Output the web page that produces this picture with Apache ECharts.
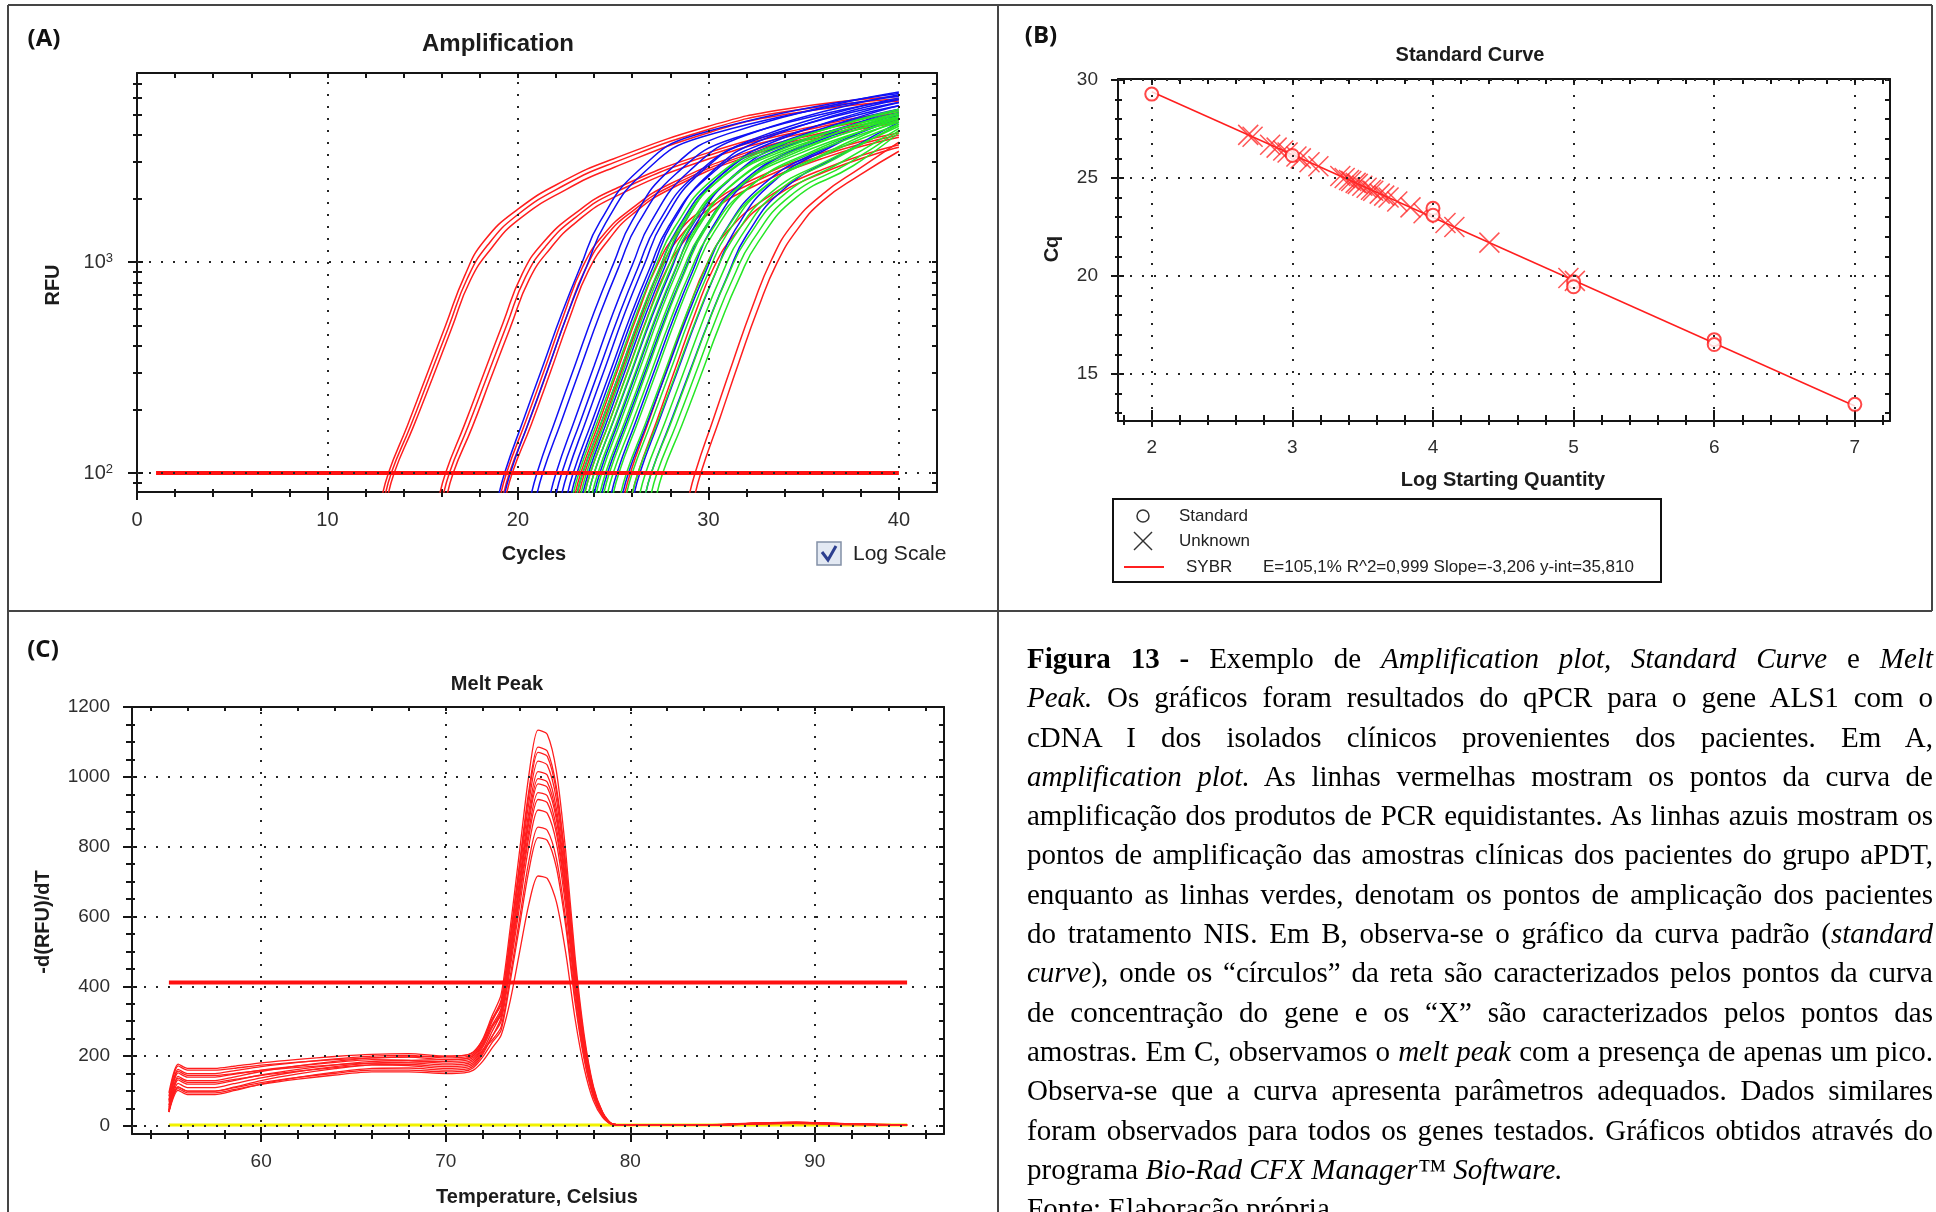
<!DOCTYPE html>
<html>
<head>
<meta charset="utf-8">
<script src="https://cdn.jsdelivr.net/npm/echarts@6/dist/echarts.min.js"></script>
<style>
  html, body { margin: 0; padding: 0; background: #fff; overflow: hidden; width: 1936px; height: 1212px; }
  #chart { position: absolute; left: 0; top: 0; width: 1936px; height: 1212px; }
  #caption {
    position: absolute; left: 1027px; top: 639px; width: 906px;
    font-family: "Liberation Serif", "Times New Roman", serif;
    font-size: 29px; line-height: 39.3px; color: #000;
  }
  #caption .j { text-align: justify; text-align-last: justify; }
</style>
</head>
<body>
<div id="chart"></div>
<div id="caption">
  <div class="j"><b>Figura 13 -</b> Exemplo de <i>Amplification plot, Standard Curve</i> e <i>Melt</i></div>
  <div class="j"><i>Peak.</i> Os gráficos foram resultados do qPCR para o gene ALS1 com o</div>
  <div class="j">cDNA I dos isolados clínicos provenientes dos pacientes. Em A,</div>
  <div class="j"><i>amplification plot.</i> As linhas vermelhas mostram os pontos da curva de</div>
  <div class="j">amplificação dos produtos de PCR equidistantes. As linhas azuis mostram os</div>
  <div class="j">pontos de amplificação das amostras clínicas dos pacientes do grupo aPDT,</div>
  <div class="j">enquanto as linhas verdes, denotam os pontos de amplicação dos pacientes</div>
  <div class="j">do tratamento NIS. Em B, observa-se o gráfico da curva padrão (<i>standard</i></div>
  <div class="j"><i>curve</i>), onde os “círculos” da reta são caracterizados pelos pontos da curva</div>
  <div class="j">de concentração do gene e os “X” são caracterizados pelos pontos das</div>
  <div class="j">amostras. Em C, observamos o <i>melt peak</i> com a presença de apenas um pico.</div>
  <div class="j">Observa-se que a curva apresenta parâmetros adequados. Dados similares</div>
  <div class="j">foram observados para todos os genes testados. Gráficos obtidos através do</div>
  <div>programa <i>Bio-Rad CFX Manager™ Software.</i></div>
  <div>Fonte: Elaboração própria</div>
</div>
<script>
// ---------- (A) Amplification: [cycle, RFU] ----------
const ampRed = [
  [[12.8,72],[13.2,100],[14.2,168],[15.2,290],[16.2,500],[17.2,860],[18.2,1250],[20,1780],[22.5,2450],[25,3080],[30,4400],[34,5300],[40,6100]],
  [[12.95,72],[13.35,100],[14.35,166],[15.35,285],[16.35,490],[17.35,840],[18.4,1200],[20,1680],[22.5,2330],[25,2950],[30,4250],[34,5150],[40,5950]],
  [[13.1,72],[13.5,100],[14.5,165],[15.5,280],[16.5,480],[17.5,820],[18.6,1160],[20,1580],[22.5,2200],[25,2800],[30,4100],[34,5000],[40,5800]],
  [[15.8,72],[16.2,100],[17.2,170],[18.2,295],[19.2,510],[20.2,870],[21.3,1230],[23,1700],[25,2200],[30,3300],[35,4300],[40,5200]],
  [[16.0,72],[16.4,100],[17.4,168],[18.4,290],[19.4,500],[20.4,850],[21.5,1200],[23,1620],[25,2120],[30,3200],[35,4200],[40,5100]],
  [[16.2,72],[16.6,100],[17.6,165],[18.6,285],[19.6,490],[20.6,830],[21.7,1160],[23,1530],[25,2020],[30,3080],[35,4080],[40,4950]],
  [[19.0,72],[19.4,100],[20.4,175],[21.4,310],[22.4,560],[23.4,950],[24.5,1350],[26,1800],[28,2350],[32,3300],[36,4100],[40,4800]],
  [[19.15,72],[19.55,100],[20.55,172],[21.55,305],[22.55,550],[23.55,930],[24.6,1320],[26,1740],[28,2280],[32,3220],[36,4000],[40,4700]],
  [[19.3,72],[19.7,100],[20.7,170],[21.7,300],[22.7,540],[23.7,910],[24.8,1290],[26,1680],[28,2220],[32,3150],[36,3920],[40,4600]],
  [[22.9,72],[23.3,100],[24.3,178],[25.3,320],[26.3,570],[27.3,960],[28.4,1380],[30,1850],[32,2380],[36,3300],[40,4100]],
  [[23.1,72],[23.5,100],[24.5,176],[25.5,315],[26.5,560],[27.5,940],[28.6,1350],[30,1780],[32,2300],[36,3200],[40,4000]],
  [[23.4,72],[23.8,100],[24.8,175],[25.8,310],[26.8,550],[27.8,920],[28.9,1320],[30,1690],[32,2200],[36,3100],[40,3900]],
  [[25.5,72],[25.9,100],[26.9,180],[27.9,325],[28.9,580],[29.9,970],[31,1400],[33,2000],[36,2750],[40,3600]],
  [[25.9,72],[26.3,100],[27.3,178],[28.3,320],[29.3,570],[30.3,950],[31.4,1360],[33,1900],[36,2650],[40,3500]],
  [[28.9,72],[29.3,100],[30.3,185],[31.3,340],[32.3,610],[33.3,1020],[34.4,1500],[36,2100],[38,2800],[40,3700]],
  [[29.2,72],[29.6,100],[30.6,182],[31.6,335],[32.6,600],[33.6,990],[34.7,1440],[36,1950],[38,2600],[40,3350]]
];
const ampBlue = [
  [[18.9,72],[19.3,100],[20.3,180],[21.3,320],[22.3,570],[23.3,960],[24.3,1550],[26.3,2700],[29.3,4000],[40,6300]],
  [[19.2,72],[19.6,100],[20.6,178],[21.6,316],[22.6,565],[23.6,950],[24.6,1530],[26.6,2650],[29.6,3900],[40,6100]],
  [[20.6,72],[21,100],[22,182],[23,325],[24,580],[25,975],[26,1570],[28,2750],[31,4050],[40,6400]],
  [[20.9,72],[21.3,100],[22.3,178],[23.3,318],[24.3,565],[25.3,950],[26.3,1520],[28.3,2620],[31.3,3850],[40,5900]],
  [[21.6,72],[22,100],[23,181],[24,322],[25,575],[26,965],[27,1560],[29,2700],[32,4000],[40,6200]],
  [[21.9,72],[22.3,100],[23.3,178],[24.3,316],[25.3,560],[26.3,940],[27.3,1500],[29.3,2580],[32.3,3750],[40,5700]],
  [[22.2,72],[22.6,100],[23.6,180],[24.6,320],[25.6,570],[26.6,955],[27.6,1540],[29.6,2660],[32.6,3900],[40,6000]],
  [[22.5,72],[22.9,100],[23.9,177],[24.9,312],[25.9,552],[26.9,925],[27.9,1470],[29.9,2500],[32.9,3650],[40,5500]],
  [[22.7,72],[23.1,100],[24.1,180],[25.1,320],[26.1,568],[27.1,950],[28.1,1530],[30.1,2640],[33.1,3880],[40,5900]],
  [[23.0,72],[23.4,100],[24.4,176],[25.4,310],[26.4,548],[27.4,915],[28.4,1450],[30.4,2460],[33.4,3580],[40,5300]],
  [[23.3,72],[23.7,100],[24.7,179],[25.7,318],[26.7,563],[27.7,945],[28.7,1510],[30.7,2600],[33.7,3800],[40,5700]],
  [[23.6,72],[24,100],[25,175],[26,307],[27,540],[28,900],[29,1420],[31,2400],[34,3500],[40,5100]],
  [[23.9,72],[24.3,100],[25.3,178],[26.3,315],[27.3,558],[28.3,935],[29.3,1490],[31.3,2560],[34.3,3730],[40,5500]],
  [[24.3,72],[24.7,100],[25.7,175],[26.7,305],[27.7,535],[28.7,890],[29.7,1400],[31.7,2360],[34.7,3430],[40,5000]],
  [[24.8,72],[25.2,100],[26.2,177],[27.2,312],[28.2,550],[29.2,920],[30.2,1460],[32.2,2500],[35.2,3650],[40,5300]],
  [[25.4,72],[25.8,100],[26.8,174],[27.8,302],[28.8,528],[29.8,875],[30.8,1370],[32.8,2300],[35.8,3350],[40,4800]],
  [[26.0,72],[26.4,100],[27.4,176],[28.4,308],[29.4,540],[30.4,900],[31.4,1420],[33.4,2400],[36.4,3500],[40,5000]],
  [[26.6,72],[27,100],[28,173],[29,300],[30,520],[31,860],[32,1340],[34,2230],[37,3250],[40,4600]]
];
const ampGreen = [
  [[22.8,72],[23.2,100],[24.2,178],[25.2,315],[26.2,560],[27.2,940],[28.2,1450],[30.2,2450],[33.2,3500],[40,5200]],
  [[23.0,72],[23.4,100],[24.4,176],[25.4,310],[26.4,550],[27.4,920],[28.4,1420],[30.4,2380],[33.4,3400],[40,5000]],
  [[23.2,72],[23.6,100],[24.6,179],[25.6,318],[26.6,565],[27.6,950],[28.6,1470],[30.6,2480],[33.6,3550],[40,5300]],
  [[23.4,72],[23.8,100],[24.8,175],[25.8,308],[26.8,545],[27.8,910],[28.8,1400],[30.8,2340],[33.8,3330],[40,4900]],
  [[23.6,72],[24,100],[25,177],[26,313],[27,556],[28,930],[29,1440],[31,2420],[34,3460],[40,5100]],
  [[23.8,72],[24.2,100],[25.2,175],[26.2,306],[27.2,540],[28.2,900],[29.2,1380],[31.2,2300],[34.2,3280],[40,4800]],
  [[24.0,72],[24.4,100],[25.4,177],[26.4,312],[27.4,553],[28.4,925],[29.4,1430],[31.4,2400],[34.4,3420],[40,5000]],
  [[24.2,72],[24.6,100],[25.6,174],[26.6,304],[27.6,535],[28.6,890],[29.6,1360],[31.6,2260],[34.6,3220],[40,4700]],
  [[24.4,72],[24.8,100],[25.8,176],[26.8,310],[27.8,548],[28.8,915],[29.8,1410],[31.8,2360],[34.8,3370],[40,4900]],
  [[24.6,72],[25,100],[26,173],[27,302],[28,530],[29,880],[30,1340],[32,2220],[35,3160],[40,4600]],
  [[24.9,72],[25.3,100],[26.3,175],[27.3,307],[28.3,542],[29.3,905],[30.3,1390],[32.3,2320],[35.3,3300],[40,4800]],
  [[25.3,72],[25.7,100],[26.7,172],[27.7,300],[28.7,525],[29.7,870],[30.7,1320],[32.7,2180],[35.7,3100],[40,4500]],
  [[25.6,72],[26,100],[27,174],[28,305],[29,538],[30,895],[31,1370],[33,2280],[36,3240],[40,4700]],
  [[25.9,72],[26.3,100],[27.3,171],[28.3,298],[29.3,520],[30.3,860],[31.3,1300],[33.3,2140],[36.3,3040],[40,4400]],
  [[26.3,72],[26.7,100],[27.7,172],[28.7,300],[29.7,526],[30.7,872],[31.7,1320],[33.7,2180],[36.7,3100],[40,4500]],
  [[26.6,72],[27,100],[28,170],[29,295],[30,515],[31,850],[32,1280],[34,2100],[37,2980],[40,4300]],
  [[26.9,72],[27.3,100],[28.3,169],[29.3,292],[30.3,510],[31.3,840],[32.3,1260],[34.3,2060],[37.3,2920],[40,4200]],
  [[27.2,72],[27.6,100],[28.6,168],[29.6,290],[30.6,505],[31.6,830],[32.6,1240],[34.6,2020],[37.6,2860],[40,4100]]
];
const ampThreshold = [[1, 100], [40, 100]];
const ampXLabels = [0, 10, 20, 30, 40];
const ampYLabels = [100, 1000];
const ampYMinor = [90, 200, 300, 400, 500, 600, 700, 800, 900, 2000, 3000, 4000, 5000, 6000, 7000];

// ---------- (B) Standard curve: [log starting quantity, Cq] ----------
const stdStandards = [[2, 29.28], [3, 26.15], [4, 23.45], [4, 23.1], [5, 19.7], [5, 19.45], [6, 16.75], [6, 16.5], [7, 13.45]];
const stdUnknowns = [
  [2.686, 27.2], [2.717, 27.1], [2.842, 26.7], [2.888, 26.55], [2.935, 26.4], [2.966, 26.3], [3.029, 26.1],
  [3.060, 26.0], [3.122, 25.8], [3.185, 25.6], [3.341, 25.1], [3.372, 25.0], [3.403, 24.9], [3.419, 24.85],
  [3.450, 24.75], [3.465, 24.7], [3.497, 24.6], [3.528, 24.5], [3.559, 24.4], [3.575, 24.35], [3.621, 24.2],
  [3.653, 24.1], [3.684, 24.0], [3.746, 23.8], [3.840, 23.5], [3.933, 23.2], [4.089, 22.7], [4.152, 22.5],
  [4.401, 21.7], [4.963, 19.9], [5.009, 19.75]
];
// fit reported in the legend: slope -3.206, y-intercept 35.810
const stdFit = [[2, 29.398], [7, 13.368]];
const stdXLabels = [2, 3, 4, 5, 6, 7];
const stdYLabels = [15, 20, 25, 30];
const stdStats = 'E=105,1% R^2=0,999 Slope=-3,206 y-int=35,810';

// ---------- (C) Melt peak: -d(RFU)/dT per temperature ----------
const meltTemps = [55, 55.5, 56, 57.5, 58.5, 60, 62, 64, 66, 68, 70, 71, 71.5, 72, 72.5, 73, 73.5, 74, 74.5, 75, 75.5, 76, 76.5, 77, 77.5, 78, 78.5, 79, 80, 84, 87, 89, 92, 95];
const meltCurves = [
  [45,142,130,130,140,156,172,185,195,198,200,202,212,248,314,376,570,787,1003,1134,1122,1015,787,490,262,114,40,7,2,2,8,10,6,3],
  [70,162,150,150,158,170,182,192,200,202,195,197,207,242,304,360,545,752,959,1085,1074,970,752,469,251,109,38,6,2,3,9,11,6,2],
  [40,132,120,120,130,146,162,175,185,188,190,192,202,235,298,355,538,742,946,1070,1059,957,742,462,247,108,38,6,2,2,7,9,5,2],
  [95,177,165,165,171,181,191,199,205,207,200,202,212,245,305,347,525,725,924,1045,1034,935,725,452,242,105,37,6,2,2,8,10,6,3],
  [40,122,110,110,121,138,156,170,180,183,185,187,197,230,287,337,510,704,898,1015,1005,908,704,439,235,102,36,6,2,2,7,9,5,2],
  [60,152,140,140,148,160,172,182,190,188,180,182,192,225,280,330,500,690,880,995,985,890,690,430,230,100,35,6,2,2,8,9,5,3],
  [42,112,100,100,111,130,149,164,175,176,170,172,182,215,269,325,493,680,867,980,970,877,680,424,227,99,34,6,2,2,7,8,5,2],
  [85,172,160,160,165,174,183,190,195,197,190,192,202,235,286,317,480,662,845,955,946,854,662,413,221,96,34,6,2,3,8,10,6,3],
  [40,102,90,90,101,120,139,154,165,166,160,162,172,205,254,310,470,649,827,935,926,837,649,404,216,94,33,5,2,2,6,8,5,2],
  [55,137,125,125,133,145,157,167,175,173,165,167,177,210,256,300,455,628,801,905,896,810,628,391,209,91,32,5,2,2,7,9,5,2],
  [75,157,145,145,150,159,168,175,180,181,175,177,187,218,245,284,430,593,757,856,847,765,593,370,198,86,30,5,2,2,8,9,5,3],
  [45,112,100,100,109,124,139,151,160,160,155,157,167,197,238,274,415,573,730,826,818,739,573,357,191,83,29,5,2,2,6,8,4,2],
  [50,107,95,95,104,119,134,146,155,155,150,152,160,185,222,260,360,497,634,716,709,641,497,310,166,72,25,4,2,2,6,7,4,2]
];
const meltThreshold = [[55, 411], [95, 411]];
const meltBaseline = [[55, 3], [95, 3]];
const meltXLabels = [60, 70, 80, 90];
const meltYLabels = [0, 200, 400, 600, 800, 1000, 1200];

// ---------- styling helpers ----------
const FONT = '"Liberation Sans", Arial, sans-serif';
const INK = '#151515';
const LABEL = '#2e2e2e';
const RED = '#ff1e1e';
const DOTS = { color: '#262626', width: 2, type: [2, 10] };
const plain = v => String(v);

function seq(a, b, step, skip) {
  const out = [];
  for (let v = a; v <= b + 1e-9; v += step) {
    const r = Math.round(v * 1000) / 1000;
    if (!skip || !skip(r)) out.push(r);
  }
  return out;
}
function baseAxis(grid, position, min, max) {
  return {
    type: 'value', gridIndex: grid, position, min, max,
    axisLine: { show: false, onZero: false },
    axisTick: { show: false },
    axisLabel: { show: false },
    splitLine: { show: false }
  };
}
function mainAxis(grid, position, min, max, labels, fontSize, margin, formatter) {
  const ax = baseAxis(grid, position, min, max);
  ax.axisLine = { show: true, onZero: false, lineStyle: { color: INK, width: 2 } };
  if (labels) {
    ax.axisLabel = { show: true, customValues: labels, fontSize, margin, color: LABEL, fontFamily: FONT, formatter: formatter || plain };
  }
  return ax;
}
function tickAxis(grid, position, min, max, values, length, offset, inside) {
  const ax = baseAxis(grid, position, min, max);
  ax.offset = offset || 0;
  ax.axisTick = { show: true, customValues: values, length, inside: !!inside, lineStyle: { color: INK, width: 2 } };
  return ax;
}
function frameAxis(grid, position, min, max, values, length) {
  const ax = tickAxis(grid, position, min, max, values, length, 0, true);
  ax.axisLine = { show: true, onZero: false, lineStyle: { color: INK, width: 2 } };
  return ax;
}
const log = v => Math.log10(v);

// axis ranges
const A = { xmin: 0, xmax: 42, ymin: 1.91, ymax: 3.896 };
const B = { xmin: 1.76, xmax: 7.25, ymin: 12.6, ymax: 30.05 };
const C = { xmin: 53, xmax: 97, ymin: -23, ymax: 1200 };

const aXMinor = seq(2, 38, 2, v => v % 10 === 0);
const aYMinorLog = ampYMinor.map(log);
const aYMajorLog = ampYLabels.map(log);
const bXMinor = seq(1.8, 7.2, 0.2, v => Math.abs(v - Math.round(v)) < 1e-6);
const bYMinor = seq(13, 30, 1, v => v % 5 === 0);
const cXMinor = seq(54, 96, 2, v => v % 10 === 0);
const cYMinor = seq(0, 1200, 50, v => v % 200 === 0);

const xAxis = [
  mainAxis(0, 'bottom', A.xmin, A.xmax, ampXLabels, 20, 18),
  tickAxis(0, 'bottom', A.xmin, A.xmax, aXMinor, 8, -3),
  tickAxis(0, 'bottom', A.xmin, A.xmax, ampXLabels, 13, -5),
  frameAxis(0, 'top', A.xmin, A.xmax, seq(0, 40, 2), 5),

  mainAxis(1, 'bottom', B.xmin, B.xmax, stdXLabels, 19, 17),
  tickAxis(1, 'bottom', B.xmin, B.xmax, bXMinor, 10, -6),
  tickAxis(1, 'bottom', B.xmin, B.xmax, stdXLabels, 17, -11),
  frameAxis(1, 'top', B.xmin, B.xmax, seq(1.8, 7.2, 0.2), 5),

  mainAxis(2, 'bottom', C.xmin, C.xmax, meltXLabels, 19, 18),
  tickAxis(2, 'bottom', C.xmin, C.xmax, cXMinor, 9, -4),
  tickAxis(2, 'bottom', C.xmin, C.xmax, meltXLabels, 15, -7),
  frameAxis(2, 'top', C.xmin, C.xmax, seq(54, 96, 2), 4)
];

const yAxis = [
  (function () {
    const ax = mainAxis(0, 'left', A.ymin, A.ymax, aYMajorLog, 20, 24, v => (v < 2.5 ? '10{s|2}' : '10{s|3}'));
    ax.axisLabel.rich = { s: { fontSize: 13, verticalAlign: 'top', color: LABEL, fontFamily: FONT } };
    return ax;
  })(),
  tickAxis(0, 'left', A.ymin, A.ymax, aYMinorLog, 9, -5),
  tickAxis(0, 'left', A.ymin, A.ymax, aYMajorLog, 15, -6),
  frameAxis(0, 'right', A.ymin, A.ymax, aYMinorLog.concat(aYMajorLog), 5),

  mainAxis(1, 'left', B.ymin, B.ymax, stdYLabels, 19, 20),
  tickAxis(1, 'left', B.ymin, B.ymax, bYMinor, 7, -4),
  tickAxis(1, 'left', B.ymin, B.ymax, stdYLabels, 13, -6),
  frameAxis(1, 'right', B.ymin, B.ymax, seq(13, 30, 1), 5),

  mainAxis(2, 'left', C.ymin, C.ymax, meltYLabels, 19, 22),
  tickAxis(2, 'left', C.ymin, C.ymax, cYMinor, 9, -3),
  tickAxis(2, 'left', C.ymin, C.ymax, meltYLabels, 14, -5),
  frameAxis(2, 'right', C.ymin, C.ymax, seq(0, 1200, 50), 5)
];

function gridLines(xIdx, yIdx, xs, ys) {
  return {
    type: 'line', xAxisIndex: xIdx, yAxisIndex: yIdx, data: [], silent: true, z: 1,
    markLine: {
      silent: true, symbol: ['none', 'none'], label: { show: false }, animation: false,
      lineStyle: DOTS, emphasis: { disabled: true },
      data: xs.map(v => ({ xAxis: v })).concat(ys.map(v => ({ yAxis: v })))
    }
  };
}
function curve(points, color, width, xIdx, yIdx, transform, smooth) {
  return {
    type: 'line', xAxisIndex: xIdx, yAxisIndex: yIdx, z: 2, silent: true,
    showSymbol: false, symbol: 'none', smooth: smooth, clip: true,
    lineStyle: { color, width },
    data: transform ? points.map(p => [p[0], transform(p[1])]) : points
  };
}

const series = [];
// (A)
series.push(gridLines(0, 0, [10, 20, 30, 40], aYMajorLog));
ampRed.forEach(c => series.push(curve(c, RED, 1.5, 0, 0, log, 0.5)));
ampBlue.forEach(c => series.push(curve(c, '#1010f5', 1.5, 0, 0, log, 0.5)));
ampGreen.forEach(c => series.push(curve(c, '#26e626', 1.5, 0, 0, log, 0.5)));
series.push(Object.assign(curve(ampThreshold, '#ff1010', 4, 0, 0, log, false), { z: 3 }));

// (B)
series.push(gridLines(4, 4, stdXLabels, stdYLabels));
series.push(curve(stdFit, RED, 1.5, 4, 4, null, false));
series.push({
  type: 'scatter', xAxisIndex: 4, yAxisIndex: 4, z: 3, silent: true,
  symbol: 'path://M0,0L20,20M20,0L0,20', symbolSize: [20, 20],
  itemStyle: { color: 'rgba(0,0,0,0)', borderColor: '#ff2a2a', borderWidth: 1.5 },
  data: stdUnknowns
});
series.push({
  type: 'scatter', xAxisIndex: 4, yAxisIndex: 4, z: 4, silent: true,
  symbol: 'circle', symbolSize: 13,
  itemStyle: { color: '#ffffff', borderColor: '#ff1a1a', borderWidth: 2 },
  data: stdStandards
});

// (C)
series.push(gridLines(8, 8, meltXLabels, [0, 200, 400, 600, 800, 1000]));
series.push(curve(meltBaseline, '#f2f200', 3, 8, 8, null, false));
meltCurves.forEach(row => series.push(curve(meltTemps.map((t, i) => [t, row[i]]), RED, 1.3, 8, 8, null, 0.25)));
series.push(Object.assign(curve(meltThreshold, '#ff1010', 4, 8, 8, null, false), { z: 3 }));

// frames, panel letters, titles and legends
function txt(text, x, y, size, opts) {
  opts = opts || {};
  return {
    type: 'text', x, y, rotation: opts.rotation || 0, z: 10, silent: true,
    style: {
      text, fill: opts.fill || '#1c1c1c',
      font: (opts.weight || 'bold') + ' ' + size + 'px ' + (opts.family || FONT),
      align: opts.align || 'center', verticalAlign: 'middle'
    }
  };
}
function seg(x1, y1, x2, y2, stroke, w) {
  return { type: 'line', silent: true, z: 10, shape: { x1, y1, x2, y2 }, style: { stroke, lineWidth: w } };
}
const PANEL = '#454545';
const graphic = [
  seg(8, 5, 1932, 5, PANEL, 2),
  seg(8, 5, 8, 1212, PANEL, 2),
  seg(998, 5, 998, 1212, PANEL, 2),
  seg(1932, 5, 1932, 611, PANEL, 2),
  seg(8, 611, 1932, 611, PANEL, 2),

  txt('(A)', 44, 39, 24, { family: '"Open Sans", sans-serif', fill: '#111' }),
  txt('(B)', 1041, 36, 24, { family: '"Open Sans", sans-serif', fill: '#111' }),
  txt('(C)', 43, 650, 24, { family: '"Open Sans", sans-serif', fill: '#111' }),

  txt('Amplification', 498, 44, 24),
  txt('RFU', 53, 285, 20, { rotation: Math.PI / 2 }),
  txt('Cycles', 534, 554, 20),
  { type: 'rect', silent: true, z: 10, shape: { x: 817, y: 542, width: 24, height: 23 }, style: { fill: '#e3e9f3', stroke: '#8390a6', lineWidth: 1.5 } },
  { type: 'polyline', silent: true, z: 11, shape: { points: [[822, 552], [828, 560], [836, 546]] }, style: { stroke: '#2d3f8f', lineWidth: 3, fill: null } },
  txt('Log Scale', 853, 554, 21, { weight: 'normal', align: 'left', fill: '#222' }),

  txt('Standard Curve', 1470, 55, 20),
  txt('Cq', 1052, 249, 20, { rotation: Math.PI / 2 }),
  txt('Log Starting Quantity', 1503, 480, 20),
  { type: 'rect', silent: true, z: 10, shape: { x: 1113, y: 499, width: 548, height: 83 }, style: { fill: '#fff', stroke: '#111', lineWidth: 2 } },
  { type: 'circle', silent: true, z: 11, shape: { cx: 1143, cy: 516, r: 6 }, style: { fill: 'none', stroke: '#333', lineWidth: 1.5 } },
  seg(1134, 532, 1152, 550, '#333', 1.5),
  seg(1152, 532, 1134, 550, '#333', 1.5),
  seg(1124, 567, 1164, 567, '#ff2020', 2),
  txt('Standard', 1179, 516, 17, { weight: 'normal', align: 'left', fill: '#222' }),
  txt('Unknown', 1179, 541, 17, { weight: 'normal', align: 'left', fill: '#222' }),
  txt('SYBR', 1186, 567, 17, { weight: 'normal', align: 'left', fill: '#222' }),
  txt(stdStats, 1263, 567, 17, { weight: 'normal', align: 'left', fill: '#222' }),

  txt('Melt Peak', 497, 684, 20),
  txt('-d(RFU)/dT', 43, 922, 20, { rotation: Math.PI / 2 }),
  txt('Temperature, Celsius', 537, 1197, 20)
];

const chart = echarts.init(document.getElementById('chart'), null, { renderer: 'canvas', width: 1936, height: 1212 });
chart.setOption({
  animation: false,
  backgroundColor: '#ffffff',
  textStyle: { fontFamily: FONT },
  grid: [
    { left: 137, top: 73, width: 800, height: 419, outerBoundsMode: 'none' },
    { left: 1118, top: 79, width: 772, height: 342, outerBoundsMode: 'none' },
    { left: 132, top: 707, width: 812, height: 427, outerBoundsMode: 'none' }
  ],
  xAxis, yAxis, series, graphic
});
</script>
</body>
</html>
